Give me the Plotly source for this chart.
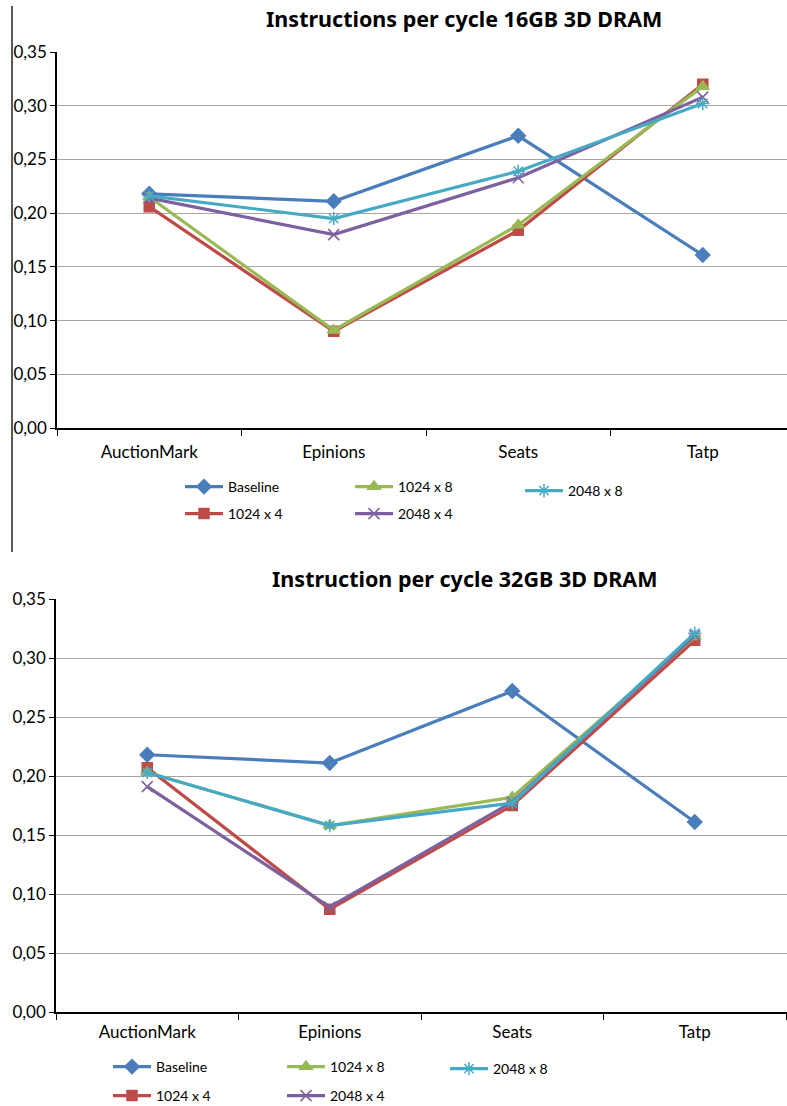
import plotly.graph_objects as go

categories = ["AuctionMark", "Epinions", "Seats", "Tatp"]
series_names = ["Baseline", "1024 x 4", "1024 x 8", "2048 x 4", "2048 x 8"]

# Instructions per cycle, 16GB 3D DRAM
ipc16_baseline = [0.218, 0.211, 0.272, 0.161]
ipc16_1024x4 = [0.206, 0.090, 0.184, 0.320]
ipc16_1024x8 = [0.215, 0.091, 0.189, 0.318]
ipc16_2048x4 = [0.214, 0.180, 0.233, 0.308]
ipc16_2048x8 = [0.216, 0.195, 0.239, 0.302]

# Instruction per cycle, 32GB 3D DRAM
ipc32_baseline = [0.218, 0.211, 0.272, 0.161]
ipc32_1024x4 = [0.207, 0.087, 0.175, 0.315]
ipc32_1024x8 = [0.203, 0.158, 0.182, 0.318]
ipc32_2048x4 = [0.191, 0.089, 0.178, 0.319]
ipc32_2048x8 = [0.203, 0.158, 0.177, 0.321]

y_ticks = [0, 0.05, 0.10, 0.15, 0.20, 0.25, 0.30, 0.35]

colors = ["#4a7ebb", "#be4b48", "#98b954", "#7d60a0", "#46aac5"]
symbols = ["diamond", "square", "triangle-up", "x-thin", "asterisk"]
sizes = [11, 10, 11, 11, 11]

W, H = 787, 1106
FONT = "Lato"
TITLE_FONT = "Noto Sans"

fig = go.Figure()

top_data = [ipc16_baseline, ipc16_1024x4, ipc16_1024x8, ipc16_2048x4, ipc16_2048x8]
bot_data = [ipc32_baseline, ipc32_1024x4, ipc32_1024x8, ipc32_2048x4, ipc32_2048x8]

def legend_key(i):
    return "legend" if i == 1 else f"legend{i}"

for j, (name, vals) in enumerate(zip(series_names, top_data)):
    fig.add_trace(go.Scatter(
        x=categories, y=vals, name=name, mode="lines+markers",
        line=dict(color=colors[j], width=3.2),
        marker=dict(symbol=symbols[j], size=sizes[j], color=colors[j],
                    line=dict(color=colors[j], width=1.5)),
        xaxis="x", yaxis="y", legend=legend_key(j + 1)))

for j, (name, vals) in enumerate(zip(series_names, bot_data)):
    fig.add_trace(go.Scatter(
        x=categories, y=vals, name=name, mode="lines+markers",
        line=dict(color=colors[j], width=3.2),
        marker=dict(symbol=symbols[j], size=sizes[j], color=colors[j],
                    line=dict(color=colors[j], width=1.5)),
        xaxis="x2", yaxis="y2", legend=legend_key(j + 6)))

def px_x(px):
    return px / W

def px_y(py):
    return 1 - py / H

# legend placements (line start x, center y) in pixels
top_leg = [(180, 487), (180, 514), (350, 487), (350, 514), (520, 491)]
bot_leg = [(108, 1067), (108, 1096), (282, 1067), (282, 1096), (445, 1069)]

layout_legends = {}
for k, (lx, ly) in enumerate(top_leg + bot_leg):
    layout_legends[legend_key(k + 1)] = dict(
        x=px_x(lx), y=px_y(ly), xanchor="left", yanchor="middle",
        xref="container", yref="container",
        bgcolor="rgba(0,0,0,0)", borderwidth=0,
        font=dict(family=FONT, size=14, color="#000000"),
        itemwidth=38, tracegroupgap=0)

axis_common_y = dict(
    range=[0, 0.35], tickvals=y_ticks, tickformat=".2f",
    showgrid=True, gridcolor="#a6a6a6", gridwidth=1.3,
    showline=True, linecolor="#000000", linewidth=1.5,
    ticks="outside", ticklen=5, tickcolor="#000000", tickwidth=1.3,
    tickfont=dict(family=FONT, size=17, color="#000000"),
    zeroline=False, fixedrange=True, automargin=False)

axis_common_x = dict(
    type="category", categoryorder="array", categoryarray=categories,
    tickson="boundaries", ticks="outside", ticklen=6, tickcolor="#000000",
    tickwidth=1.3, showgrid=False, showline=True, linecolor="#000000",
    linewidth=2, tickfont=dict(family=FONT, size=17, color="#000000"),
    fixedrange=True, automargin=False)

fig.update_layout(
    width=W, height=H, margin=dict(l=0, r=0, t=0, b=0, autoexpand=False),
    paper_bgcolor="white", plot_bgcolor="white",
    separators=",.",
    showlegend=True,
    xaxis=dict(axis_common_x, domain=[px_x(57), 1],
               range=[-0.5, (W - 57) / 184.5 - 0.5], anchor="y",
               ticklabelstandoff=8),
    yaxis=dict(axis_common_y, domain=[px_y(428), px_y(52)], anchor="x"),
    xaxis2=dict(axis_common_x, domain=[px_x(56), 1],
                range=[-0.5, (W - 56) / 182.5 - 0.5], anchor="y2",
                ticklabelstandoff=4),
    yaxis2=dict(axis_common_y, domain=[px_y(1012), px_y(599)], anchor="x2"),
    annotations=[
        dict(text="<b>Instructions per cycle 16GB 3D DRAM</b>",
             x=px_x(464), y=px_y(18), xref="paper", yref="paper",
             xanchor="center", yanchor="middle", showarrow=False,
             font=dict(family=TITLE_FONT, size=21.5, color="#000000")),
        dict(text="<b>Instruction per cycle 32GB 3D DRAM</b>",
             x=px_x(465), y=px_y(578), xref="paper", yref="paper",
             xanchor="center", yanchor="middle", showarrow=False,
             font=dict(family=TITLE_FONT, size=21.5, color="#000000")),
    ],
    shapes=[
        dict(type="line", xref="paper", yref="paper",
             x0=px_x(12), x1=px_x(12), y0=px_y(6), y1=px_y(552),
             line=dict(color="#222222", width=1.5)),
    ],
    **layout_legends,
)

fig.write_html("out.html")
